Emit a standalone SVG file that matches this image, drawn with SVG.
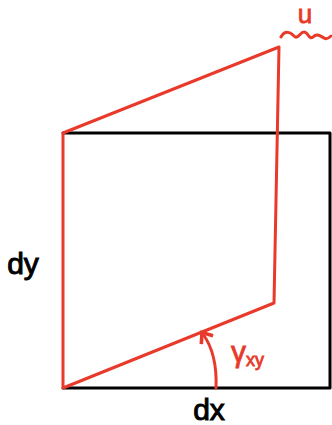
<svg xmlns="http://www.w3.org/2000/svg" width="332" height="425" viewBox="0 0 332 425">
<style>
.blk{fill:none;stroke:#000;stroke-width:3;stroke-linecap:round;stroke-linejoin:round}
.red{fill:none;stroke:#e8392a;stroke-width:3;stroke-linecap:round;stroke-linejoin:round}
.tb{font-family:"Liberation Sans",Arial,sans-serif;fill:#000;stroke:#000;stroke-width:1}
.tr{font-family:"Liberation Sans",Arial,sans-serif;fill:#e8392a;stroke:#e8392a;stroke-width:0.8}
</style>
<defs>
<marker id="ah" viewBox="0 0 10 10" refX="5" refY="5" markerWidth="6" markerHeight="6" orient="auto">
<path d="M1,1 L6,5 L1,9" fill="none" stroke="#e8392a" stroke-width="2"/>
</marker>
</defs>
<g id="square">
<path class="blk" d="M63,133 L330,133 L330,388 L63,388"/>
</g>
<g id="parallelogram">
<path class="red" d="M63,133 L279,47 L274,303 L63,388 Z"/>
</g>
<g id="connectors">
<path class="red" d="M216,388 C217,365 213,348 203,334" marker-end="url(#ah)"/>
<path class="red" d="M281,37 C285,30 290,32 294,36 C298,40 300,32 304,32 C308,32 309,40 313,37 C317,33 320,36 324,38 C327,40 329,38 331,36"/>
</g>
<g id="labels">
<text class="tr" x="305" y="23" font-size="26" text-anchor="middle">u</text>
<text class="tb" x="209" y="420" font-size="30" text-anchor="middle">dx</text>
<text class="tb" x="23" y="274" font-size="30" text-anchor="middle">dy</text>
<text class="tr" x="231" y="362" font-size="30">γ<tspan font-size="18" dy="4">xy</tspan></text>
</g>
</svg>
